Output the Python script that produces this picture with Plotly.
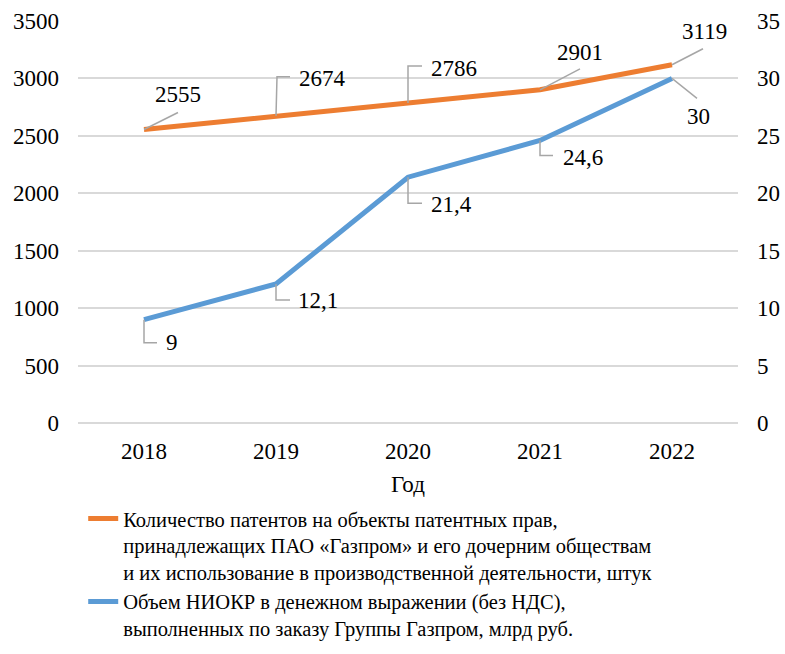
import plotly.graph_objects as go

years = ["2018", "2019", "2020", "2021", "2022"]
patents = [2555, 2674, 2786, 2901, 3119]
niokr = [9, 12.1, 21.4, 24.6, 30]
name_patents = ("Количество патентов на объекты патентных прав,<br>"
                "принадлежащих ПАО «Газпром» и его дочерним обществам<br>"
                "и их использование в производственной деятельности, штук")
name_niokr = ("Объем НИОКР в денежном выражении (без НДС),<br>"
              "выполненных по заказу Группы Газпром, млрд руб.")
x_title = "Год"
left_ticks = [0, 500, 1000, 1500, 2000, 2500, 3000, 3500]
right_ticks = [0, 5, 10, 15, 20, 25, 30, 35]

xpos = list(range(len(years)))

# label offsets (pixels) and leader paths (pixels, relative to the point)
pat_shift = [(34, 35), (46, 37), (46, 35), (40, 37), (32, 33)]
pat_lead = ["M0,0 L34,17", "M0,0 L1,39 L14,39", "M0,0 L0,37 L14,37",
            "M0,0 L40,21", "M0,0 L31,16"]
nio_shift = [(28, -23), (42, -16), (43, -27), (43, -17), (26, -38)]
nio_lead = ["M0,0 L0,-23 L13,-23", "M0,0 L0,-16 L14,-16", "M0,0 L0,-26 L14,-26",
            "M0,0 L0,-15 L13,-15", "M0,0 L25,-20"]

FONT = "Liberation Serif"
ORANGE = "#ED7D31"
BLUE = "#5B9BD5"
GRID = "#D9D9D9"
LEAD = "#A6A6A6"

def fmt(v):
    return f"{v:g}".replace(".", ",")

fig = go.Figure()
fig.add_trace(go.Scatter(x=xpos, y=patents, mode="lines", name=name_patents,
                         line=dict(color=ORANGE, width=5), yaxis="y"))
fig.add_trace(go.Scatter(x=xpos, y=niokr, mode="lines", name=name_niokr,
                         line=dict(color=BLUE, width=5), yaxis="y2"))

annotations = []
shapes = []
for xp, v, (dx, dy), p in zip(xpos, patents, pat_shift, pat_lead):
    annotations.append(dict(x=xp, y=v, xref="x", yref="y", text=fmt(v), showarrow=False,
                            xshift=dx, yshift=dy, font=dict(size=23, color="black", family=FONT)))
    shapes.append(dict(type="path", xref="x", yref="y", xsizemode="pixel", ysizemode="pixel",
                       xanchor=xp, yanchor=v, path=p, line=dict(color=LEAD, width=1.5)))
for xp, v, (dx, dy), p in zip(xpos, niokr, nio_shift, nio_lead):
    annotations.append(dict(x=xp, y=v, xref="x", yref="y2", text=fmt(v), showarrow=False,
                            xshift=dx, yshift=dy, font=dict(size=23, color="black", family=FONT)))
    shapes.append(dict(type="path", xref="x", yref="y2", xsizemode="pixel", ysizemode="pixel",
                       xanchor=xp, yanchor=v, path=p, line=dict(color=LEAD, width=1.5)))

fig.update_layout(
    width=785, height=654,
    margin=dict(l=78, r=47, t=21, b=231, autoexpand=False),
    paper_bgcolor="white", plot_bgcolor="white",
    font=dict(family=FONT, size=23, color="black"),
    showlegend=True,
    legend=dict(xref="container", yref="container", x=0.106, xanchor="left",
                y=0.2375, yanchor="top", valign="top",
                font=dict(size=20.5, family=FONT), tracegroupgap=2,
                bgcolor="rgba(0,0,0,0)"),
    xaxis=dict(range=[-0.5, 4.5], tickvals=xpos, ticktext=years, showgrid=False,
               showline=False, zeroline=False, ticks="", ticklabelstandoff=12,
               title=dict(text=x_title, standoff=12, font=dict(size=23))),
    yaxis=dict(range=[0, 3500], tickvals=left_ticks, showgrid=True, gridcolor=GRID,
               gridwidth=1.5, zeroline=True, zerolinecolor=GRID, zerolinewidth=1.5,
               showline=False, ticks="", ticklabelstandoff=18),
    yaxis2=dict(range=[0, 35], tickvals=right_ticks, overlaying="y", side="right",
                showgrid=False, zeroline=False, showline=False, ticks="",
                ticklabelstandoff=18),
    annotations=annotations,
    shapes=shapes,
)

fig.write_html("out.html", config={"displayModeBar": False},
               post_script="document.body.style.margin='0';")
